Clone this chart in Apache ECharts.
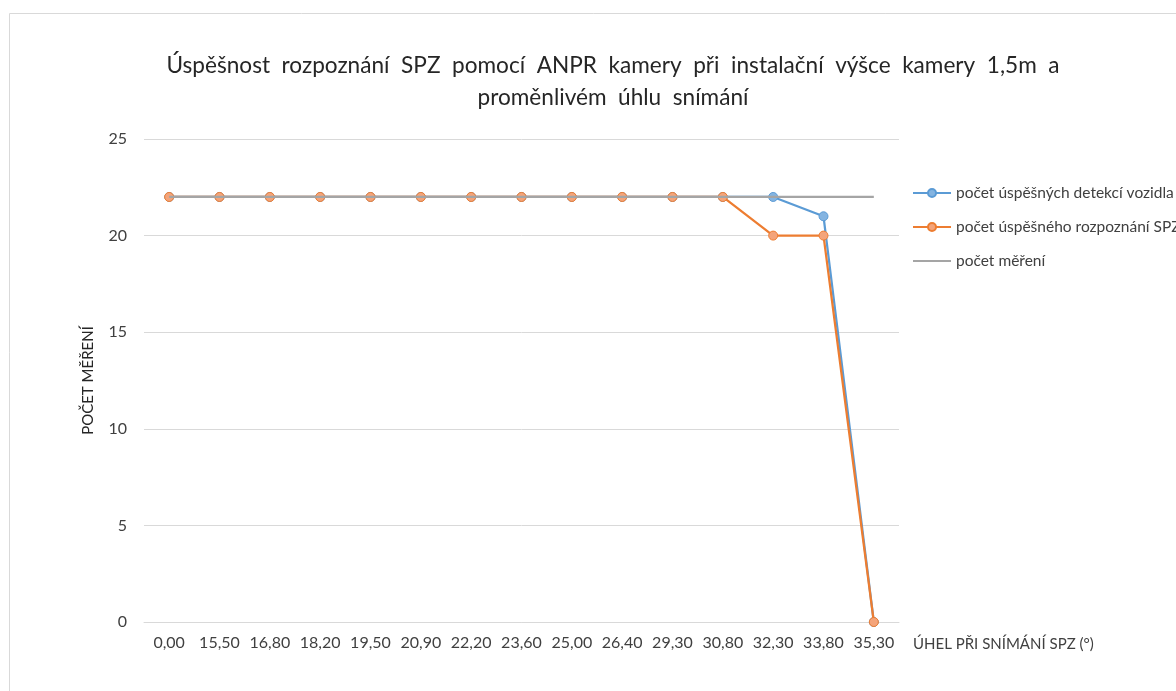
<!DOCTYPE html>
<html>
<head>
<meta charset="utf-8">
<script src="https://cdn.jsdelivr.net/npm/echarts@6/dist/echarts.min.js"></script>
<style>
  body { margin: 0; background: #fff; }
  #chart { width: 1176px; height: 691px; }
</style>
</head>
<body>
<div id="chart"></div>
<script>
// úhly snímání (kategorie osy X)
const angles = ['0,00', '15,50', '16,80', '18,20', '19,50', '20,90', '22,20', '23,60',
  '25,00', '26,40', '29,30', '30,80', '32,30', '33,80', '35,30'];
// počet úspěšných detekcí vozidla
const detections = [22, 22, 22, 22, 22, 22, 22, 22, 22, 22, 22, 22, 22, 21, 0];
// počet úspěšného rozpoznání SPZ
const recognitions = [22, 22, 22, 22, 22, 22, 22, 22, 22, 22, 22, 22, 20, 20, 0];
// počet měření
const measurements = [22, 22, 22, 22, 22, 22, 22, 22, 22, 22, 22, 22, 22, 22, 22];

const font = 'Lato, "Open Sans", sans-serif';
const chart = echarts.init(document.getElementById('chart'));

chart.setOption({
  animation: false,
  textStyle: { fontFamily: font },
  title: {
    text: 'Úspěšnost  rozpoznání  SPZ  pomocí  ANPR  kamery  při  instalační  výšce  kamery  1,5m  a\nproměnlivém  úhlu  snímání',
    left: 608,
    textAlign: 'center',
    top: 45,
    textStyle: { fontFamily: font, fontSize: 22.6, fontWeight: 'normal', color: '#262626', lineHeight: 32 }
  },
  graphic: [{
    type: 'rect',
    shape: { x: 9.5, y: 13.5, width: 1200, height: 720 },
    style: { fill: 'none', stroke: '#d9d9d9', lineWidth: 1 },
    silent: true
  }],
  legend: {
    orient: 'vertical',
    left: 907,
    top: 180,
    itemGap: 18,
    itemWidth: 38,
    itemHeight: 10,
    textStyle: { fontFamily: font, fontSize: 15.5, color: '#404040', lineHeight: 14 },
    data: ['počet úspěšných detekcí vozidla', 'počet úspěšného rozpoznání SPZ', 'počet měření']
  },
  grid: { left: 144, right: 277, top: 139, bottom: 69, containLabel: false },
  xAxis: {
    type: 'category',
    data: angles,
    boundaryGap: true,
    name: 'ÚHEL PŘI SNÍMÁNÍ SPZ (°)',
    nameLocation: 'end',
    nameGap: 14,
    nameTextStyle: { fontFamily: font, fontSize: 15, color: '#404040', verticalAlign: 'top', lineHeight: 44 },
    axisLine: { lineStyle: { color: '#d9d9d9' } },
    axisTick: { show: false },
    axisLabel: { fontFamily: font, fontSize: 16, color: '#404040', margin: 13, interval: 0 }
  },
  yAxis: {
    type: 'value',
    min: 0,
    max: 25,
    interval: 5,
    name: 'POČET MĚŘENÍ',
    nameLocation: 'middle',
    nameGap: 48,
    nameTextStyle: { fontFamily: font, fontSize: 15, color: '#262626' },
    axisLine: { show: false },
    axisTick: { show: false },
    axisLabel: { fontFamily: font, fontSize: 16, color: '#404040', margin: 17 },
    splitLine: { lineStyle: { color: '#d9d9d9' } }
  },
  series: [
    {
      name: 'počet úspěšných detekcí vozidla',
      type: 'line',
      data: detections,
      z: 3,
      symbol: 'circle',
      symbolSize: 9,
      lineStyle: { color: '#5b9bd5', width: 2.25 },
      itemStyle: { color: '#84b4e1', borderColor: '#5b9bd5', borderWidth: 1 }
    },
    {
      name: 'počet úspěšného rozpoznání SPZ',
      type: 'line',
      data: recognitions,
      z: 4,
      symbol: 'circle',
      symbolSize: 9,
      lineStyle: { color: '#ed7d31', width: 2.25 },
      itemStyle: { color: '#f4a47a', borderColor: '#ed7d31', borderWidth: 1 }
    },
    {
      name: 'počet měření',
      type: 'line',
      data: measurements,
      z: 5,
      symbol: 'none',
      lineStyle: { color: '#a5a5a5', width: 2.25 },
      itemStyle: { color: '#a5a5a5', opacity: 0 }
    }
  ]
});
</script>
</body>
</html>
